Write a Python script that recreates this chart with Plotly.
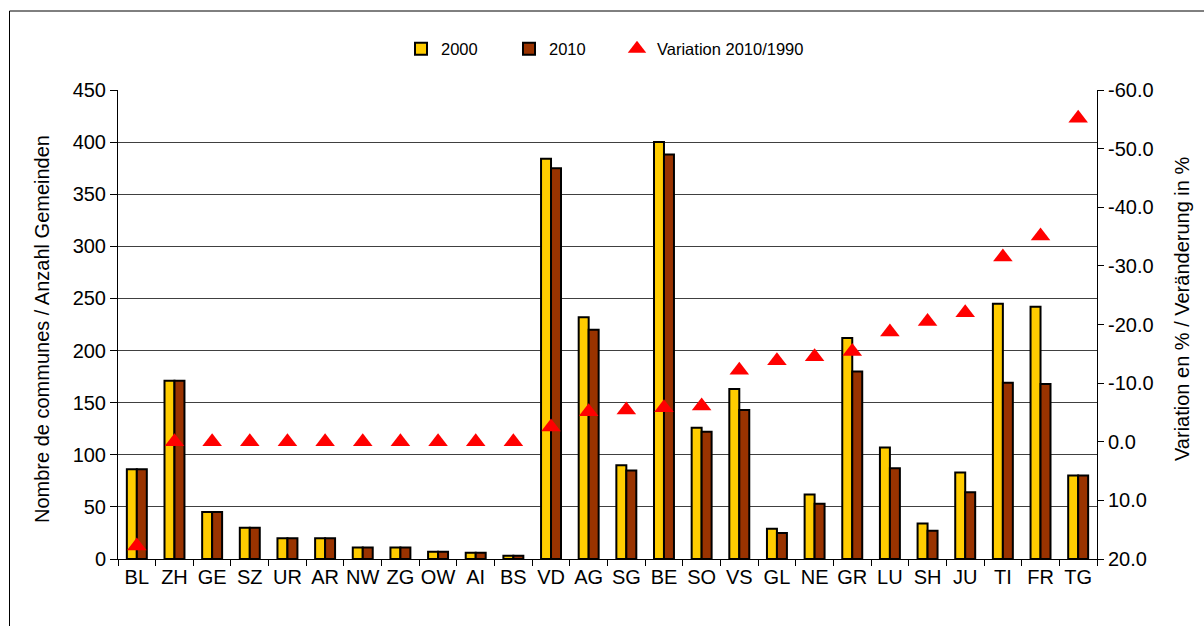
import plotly.graph_objects as go

cantons = ["BL", "ZH", "GE", "SZ", "UR", "AR", "NW", "ZG", "OW", "AI", "BS", "VD", "AG",
           "SG", "BE", "SO", "VS", "GL", "NE", "GR", "LU", "SH", "JU", "TI", "FR", "TG"]
communes_2000 = [86, 171, 45, 30, 20, 20, 11, 11, 7, 6, 3, 384, 232,
                 90, 400, 126, 163, 29, 62, 212, 107, 34, 83, 245, 242, 80]
communes_2010 = [86, 171, 45, 30, 20, 20, 11, 11, 7, 6, 3, 375, 220,
                 85, 388, 122, 143, 25, 53, 180, 87, 27, 64, 169, 168, 80]
variation = [17.8, 0, 0, 0, 0, 0, 0, 0, 0, 0, 0, -2.5, -5.1,
             -5.4, -5.8, -6.1, -12.2, -13.8, -14.5, -15.4, -18.7, -20.5, -22.0, -31.5, -35.1, -55.2]
right_ticks = [-60, -50, -40, -30, -20, -10, 0, 10, 20]

FONT = "Liberation Sans, Arial, sans-serif"

fig = go.Figure()
fig.add_trace(go.Bar(x=cantons, y=communes_2000, name="2000", legend="legend",
                     marker=dict(color="#FFCC00", line=dict(color="black", width=2))))
fig.add_trace(go.Bar(x=cantons, y=communes_2010, name="2010", legend="legend2",
                     marker=dict(color="#993300", line=dict(color="black", width=2))))
fig.add_trace(go.Scatter(x=cantons, y=variation, name="Variation 2010/1990", yaxis="y2",
                         legend="legend3", mode="markers",
                         marker=dict(symbol="triangle-up", size=17, color="#FF0000")))

W, H = 1204, 626
L, R, T, B = 118, 107, 90, 67
pw, ph = W - L - R, H - T - B


def px(x):
    return (x - L) / pw


def py(y):
    return (H - B - y) / ph


def legend_at(x):
    return dict(orientation="h", x=px(x), xanchor="left", y=py(49), yanchor="middle",
                font=dict(size=16.5), itemwidth=30, bgcolor="rgba(0,0,0,0)")


fig.update_layout(
    width=W, height=H,
    margin=dict(l=L, r=R, t=T, b=B),
    paper_bgcolor="white", plot_bgcolor="white",
    font=dict(family=FONT, size=20, color="black"),
    barmode="group", bargap=0.47, bargroupgap=0,
    showlegend=True,
    legend=legend_at(401), legend2=legend_at(509), legend3=legend_at(617),
    xaxis=dict(range=[-0.5, len(cantons) - 0.5], showline=True, linecolor="black", linewidth=1,
               ticks="outside", tickson="boundaries", ticklen=6, tickcolor="black", tickangle=0,
               tickfont=dict(size=20), automargin=False),
    yaxis=dict(range=[0, 450], dtick=50, showline=True, linecolor="black", linewidth=1,
               ticks="outside", ticklen=7, tickcolor="black",
               showgrid=True, gridcolor="#404040", gridwidth=1,
               zeroline=False, tickfont=dict(size=20), automargin=False),
    yaxis2=dict(overlaying="y", side="right", range=[20, -60],
                tickvals=right_ticks, ticktext=["%.1f" % v for v in right_ticks],
                showline=True, linecolor="black", linewidth=1,
                ticks="outside", ticklen=6, tickcolor="black",
                showgrid=False, zeroline=False, tickfont=dict(size=20), automargin=False),
    annotations=[
        dict(text="Nombre de communes / Anzahl Gemeinden", textangle=-90,
             xref="paper", yref="paper", x=px(42), y=py(329),
             xanchor="center", yanchor="middle", showarrow=False, font=dict(size=20)),
        dict(text="Variation en % / Veränderung in %", textangle=-90,
             xref="paper", yref="paper", x=px(1182), y=py(309),
             xanchor="center", yanchor="middle", showarrow=False, font=dict(size=20)),
    ],
    shapes=[dict(type="rect", xref="paper", yref="paper",
                 x0=px(9.5), x1=px(1230), y0=py(660), y1=py(11),
                 line=dict(color="black", width=1), fillcolor="rgba(0,0,0,0)")],
)

fig.write_html("out.html", config={"displayModeBar": False},
               post_script="document.body.style.margin='0';")
